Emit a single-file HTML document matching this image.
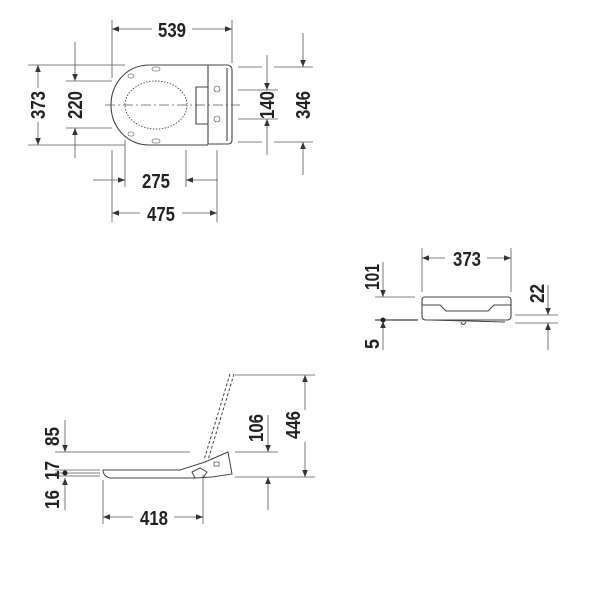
<!DOCTYPE html>
<html><head><meta charset="utf-8"><style>
html,body{margin:0;padding:0;background:#fff}
svg{display:block}
text{font-family:"Liberation Sans",sans-serif;font-weight:bold;font-size:20px;fill:#222}
</style></head><body>
<svg width="600" height="600" viewBox="0 0 600 600" xmlns="http://www.w3.org/2000/svg">
<defs>
<marker id="a" viewBox="0 0 10 10" refX="10" refY="5" markerWidth="9" markerHeight="7" orient="auto-start-reverse" markerUnits="userSpaceOnUse"><path d="M0,1 L10,5 L0,9 z" fill="#333"/></marker>
</defs>
<g stroke="#555" stroke-width="0.8" fill="none">
<line x1="112" y1="20" x2="112" y2="78"/><line x1="232" y1="20" x2="232" y2="63"/>
<line x1="28" y1="65" x2="125" y2="65"/><line x1="28" y1="145" x2="125" y2="145"/>
<line x1="66" y1="81" x2="112" y2="81"/><line x1="66" y1="128" x2="112" y2="128"/>
<line x1="238" y1="67" x2="262" y2="67"/><line x1="274" y1="67" x2="313" y2="67"/>
<line x1="238" y1="142" x2="262" y2="142"/><line x1="274" y1="142" x2="313" y2="142"/>
<line x1="238" y1="90" x2="278" y2="90"/><line x1="238" y1="119" x2="278" y2="119"/>
<line x1="125" y1="140" x2="125" y2="187"/><line x1="186" y1="150" x2="186" y2="187"/>
<line x1="112" y1="150" x2="112" y2="222"/><line x1="217" y1="150" x2="217" y2="222"/>
<line x1="112" y1="29" x2="152" y2="29" marker-start="url(#a)"/><line x1="192" y1="29" x2="232" y2="29" marker-end="url(#a)"/>
<line x1="38" y1="65" x2="38" y2="88" marker-start="url(#a)"/><line x1="38" y1="122" x2="38" y2="145" marker-end="url(#a)"/>
<line x1="75" y1="42" x2="75" y2="81" marker-end="url(#a)"/><line x1="75" y1="158" x2="75" y2="128" marker-end="url(#a)"/>
<line x1="267" y1="55" x2="267" y2="90" marker-end="url(#a)"/><line x1="267" y1="155" x2="267" y2="119" marker-end="url(#a)"/>
<line x1="303" y1="33" x2="303" y2="67" marker-end="url(#a)"/><line x1="303" y1="175" x2="303" y2="142" marker-end="url(#a)"/>
<line x1="93" y1="180" x2="125" y2="180" marker-end="url(#a)"/><line x1="218" y1="180" x2="186" y2="180" marker-end="url(#a)"/>
<line x1="112" y1="213" x2="140" y2="213" marker-start="url(#a)"/><line x1="182" y1="213" x2="217" y2="213" marker-end="url(#a)"/>
<line x1="105" y1="105" x2="240" y2="105" stroke-dasharray="10 3 2 3"/>
</g>
<g stroke="#444" stroke-width="1.1" fill="none">
<path d="M208,65 L150,65 C125,65 111,85 111,105 C111,125 125,145 150,145 L208,145"/>
<path d="M208,65 L228,65 Q232,66 232,70 L232,140 Q232,144 228,144 L208,144 Z"/>
<line x1="227" y1="68" x2="227" y2="141"/>
<path d="M208,87 L196,87 L196,124 L208,124"/>
<ellipse cx="156" cy="105" rx="31" ry="24" stroke-dasharray="1.5 1.5" stroke-width="0.9"/>
<rect x="152" y="67" width="8" height="4" rx="2" stroke-width="0.6"/>
<rect x="152" y="139" width="8" height="4" rx="2" stroke-width="0.6"/>
<rect x="128" y="74" width="6" height="4" rx="2" stroke-width="0.6"/>
<rect x="128" y="132" width="6" height="4" rx="2" stroke-width="0.6"/>
<circle cx="217" cy="89" r="3" stroke-width="0.6"/><circle cx="217" cy="119" r="3" stroke-width="0.6"/>
</g>
<text x="158" y="37" textLength="28" lengthAdjust="spacingAndGlyphs">539</text>
<text x="142" y="188" textLength="28" lengthAdjust="spacingAndGlyphs">275</text>
<text x="147" y="221" textLength="28" lengthAdjust="spacingAndGlyphs">475</text>
<text transform="translate(45,119) rotate(-90)" textLength="28" lengthAdjust="spacingAndGlyphs">373</text>
<text transform="translate(82,119) rotate(-90)" textLength="28" lengthAdjust="spacingAndGlyphs">220</text>
<text transform="translate(274,119) rotate(-90)" textLength="28" lengthAdjust="spacingAndGlyphs">140</text>
<text transform="translate(310,119) rotate(-90)" textLength="28" lengthAdjust="spacingAndGlyphs">346</text>

<g stroke="#555" stroke-width="0.8" fill="none">
<line x1="422" y1="248" x2="422" y2="292"/><line x1="511" y1="248" x2="511" y2="292"/>
<line x1="422" y1="258" x2="445" y2="258" marker-start="url(#a)"/><line x1="487" y1="258" x2="511" y2="258" marker-end="url(#a)"/>
<line x1="375" y1="297" x2="415" y2="297"/>
<line x1="383" y1="262" x2="383" y2="297" marker-end="url(#a)"/>
<line x1="383" y1="350" x2="383" y2="321" marker-end="url(#a)"/>
<line x1="515" y1="315" x2="558" y2="315"/><line x1="515" y1="323" x2="558" y2="323"/>
<line x1="548" y1="285" x2="548" y2="315" marker-end="url(#a)"/><line x1="548" y1="350" x2="548" y2="323" marker-end="url(#a)"/>
</g>
<line x1="375" y1="320" x2="418" y2="320" stroke="#888" stroke-width="2"/>
<circle cx="383" cy="320" r="2.5" fill="#222"/>
<g stroke="#444" stroke-width="1.1" fill="none">
<path d="M425,297 L508,297 Q511,297 511,300 L511,316 Q511,320 507,320 L426,320 Q422,320 422,316 L422,300 Q422,297 425,297 Z"/>
<path d="M422,305 L440,305 L446,311 L488,311 L494,305 L511,305"/>
<line x1="430" y1="320" x2="505" y2="322"/>
<path d="M461,322 Q463,327 466,322"/>
</g>
<text x="453" y="266" textLength="28" lengthAdjust="spacingAndGlyphs">373</text>
<text transform="translate(379,290) rotate(-90)" textLength="26" lengthAdjust="spacingAndGlyphs">101</text>
<text transform="translate(379,349) rotate(-90)" textLength="10" lengthAdjust="spacingAndGlyphs">5</text>
<text transform="translate(544,303) rotate(-90)" textLength="19" lengthAdjust="spacingAndGlyphs">22</text>

<g stroke="#555" stroke-width="0.8" fill="none">
<line x1="235" y1="375" x2="315" y2="375"/><line x1="235" y1="477" x2="315" y2="477"/>
<line x1="305" y1="375" x2="305" y2="410" marker-start="url(#a)"/><line x1="305" y1="442" x2="305" y2="477" marker-end="url(#a)"/>
<line x1="235" y1="452" x2="278" y2="452"/>
<line x1="268" y1="415" x2="268" y2="452" marker-end="url(#a)"/><line x1="268" y1="510" x2="268" y2="477" marker-end="url(#a)"/>
<line x1="55" y1="452" x2="190" y2="452"/>
<line x1="65" y1="420" x2="65" y2="452" marker-end="url(#a)"/>
<line x1="55" y1="470" x2="100" y2="470"/><line x1="55" y1="473" x2="100" y2="473"/><line x1="55" y1="476" x2="100" y2="476"/>
<line x1="65" y1="510" x2="65" y2="478" marker-end="url(#a)"/>
<line x1="103" y1="480" x2="103" y2="524"/><line x1="203" y1="475" x2="203" y2="524"/>
<line x1="103" y1="517" x2="133" y2="517" marker-start="url(#a)"/><line x1="174" y1="517" x2="203" y2="517" marker-end="url(#a)"/>
</g>
<circle cx="65" cy="473" r="2.5" fill="#222"/>
<g stroke="#444" stroke-width="1" fill="none">
<line x1="230" y1="374" x2="204" y2="460" stroke-dasharray="3 2"/>
<line x1="234" y1="374" x2="208" y2="460" stroke-dasharray="3 2"/>
<path d="M103,470 L180,470 L205,462 L228,452 L232,474 L212,477 L195,478 L110,478 Q103,476 103,470 Z"/>
<path d="M195,478 L192,472 L200,468 L207,472 L203,478"/>
<rect x="214" y="462" width="5" height="4" stroke-width="0.7"/>
</g>
<text x="140" y="525" textLength="28" lengthAdjust="spacingAndGlyphs">418</text>
<text transform="translate(300,439) rotate(-90)" textLength="28" lengthAdjust="spacingAndGlyphs">446</text>
<text transform="translate(263,442) rotate(-90)" textLength="28" lengthAdjust="spacingAndGlyphs">106</text>
<text transform="translate(59,446) rotate(-90)" textLength="19" lengthAdjust="spacingAndGlyphs">85</text>
<text transform="translate(59,480) rotate(-90)" textLength="19" lengthAdjust="spacingAndGlyphs">17</text>
<text transform="translate(59,509) rotate(-90)" textLength="19" lengthAdjust="spacingAndGlyphs">16</text>
</svg>
</body></html>
